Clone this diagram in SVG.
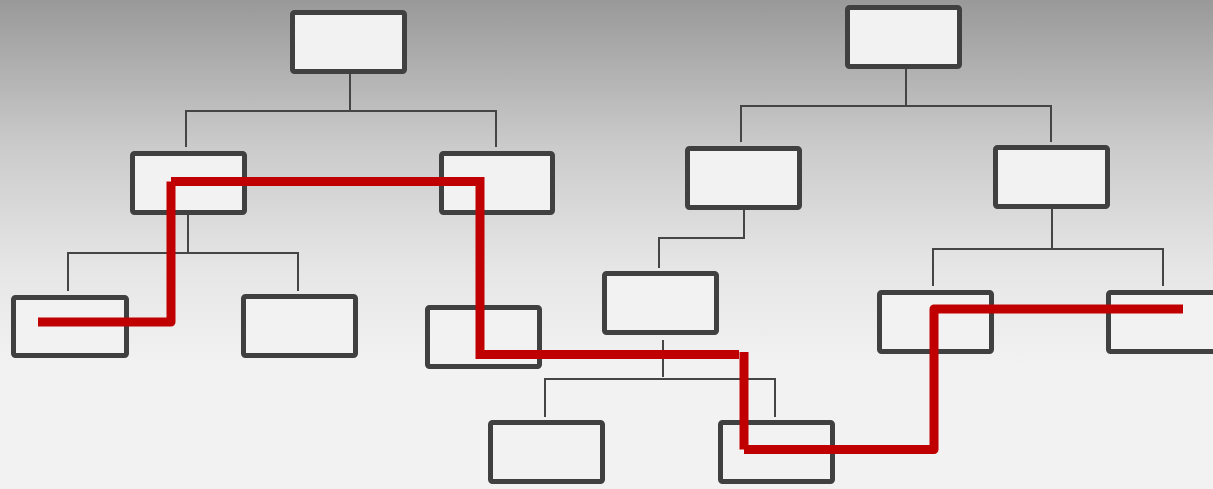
<svg xmlns="http://www.w3.org/2000/svg" width="1213" height="489" viewBox="0 0 1213 489">
<style>
.box{fill:#f2f2f2;stroke:#404040;stroke-width:5}
.con{fill:none;stroke:#454545;stroke-width:2}
.path{fill:none;stroke:#c00000;stroke-width:9}
</style>
<defs>
<linearGradient id="bg" x1="0" y1="0" x2="0" y2="1">
<stop offset="0" stop-color="#999999"/>
<stop offset="0.3" stop-color="#cbcbcb"/>
<stop offset="0.55" stop-color="#e6e6e6"/>
<stop offset="0.75" stop-color="#f2f2f2"/>
<stop offset="1" stop-color="#f2f2f2"/>
</linearGradient>
</defs>
<rect width="1213" height="489" fill="url(#bg)"/>
<g id="connectors">
<path class="con" d="M350 74V111M186 147V111H496V147"/>
<path class="con" d="M188 215V252M68 291V253H298V291"/>
<path class="con" d="M906 69V106M741 142V106H1051V142"/>
<path class="con" d="M744 210V238H659V268"/>
<path class="con" d="M1052 209V248M933 286V249H1163V286"/>
<path class="con" d="M663 340V377M545 417V379H775V417"/>
</g>
<g id="nodeA"><rect class="box" x="292.5" y="12.5" width="112" height="59" rx="2"/></g>
<g id="nodeB"><rect class="box" x="132.5" y="153.5" width="112" height="59" rx="2"/></g>
<g id="nodeC"><rect class="box" x="441.5" y="153.5" width="111" height="59" rx="2"/></g>
<g id="nodeD"><rect class="box" x="13.5" y="297.5" width="113" height="58" rx="2"/></g>
<g id="nodeE"><rect class="box" x="243.5" y="296.5" width="112" height="59" rx="2"/></g>
<g id="nodeF"><rect class="box" x="427.5" y="307.5" width="112" height="59" rx="2"/></g>
<g id="nodeG"><rect class="box" x="847.5" y="7.5" width="112" height="59" rx="2"/></g>
<g id="nodeH"><rect class="box" x="687.5" y="148.5" width="112" height="59" rx="2"/></g>
<g id="nodeI"><rect class="box" x="995.5" y="147.5" width="112" height="59" rx="2"/></g>
<g id="nodeJ"><rect class="box" x="604.5" y="273.5" width="112" height="59" rx="2"/></g>
<g id="nodeK"><rect class="box" x="490.5" y="422.5" width="112" height="59" rx="2"/></g>
<g id="nodeL"><rect class="box" x="720.5" y="422.5" width="112" height="59" rx="2"/></g>
<g id="nodeM"><rect class="box" x="879.5" y="292.5" width="112" height="59" rx="2"/></g>
<g id="nodeN"><rect class="box" x="1108.5" y="292.5" width="112" height="59" rx="2"/></g>
<g id="route">
<path class="path" stroke-linejoin="round" d="M38 322H171V181.5"/>
<path class="path" d="M171 181.5H480V354.5H739"/>
<path class="path" d="M744 352V449.5"/>
<path class="path" stroke-linejoin="round" d="M744 449.5H934V309H1183"/>
</g>
</svg>
